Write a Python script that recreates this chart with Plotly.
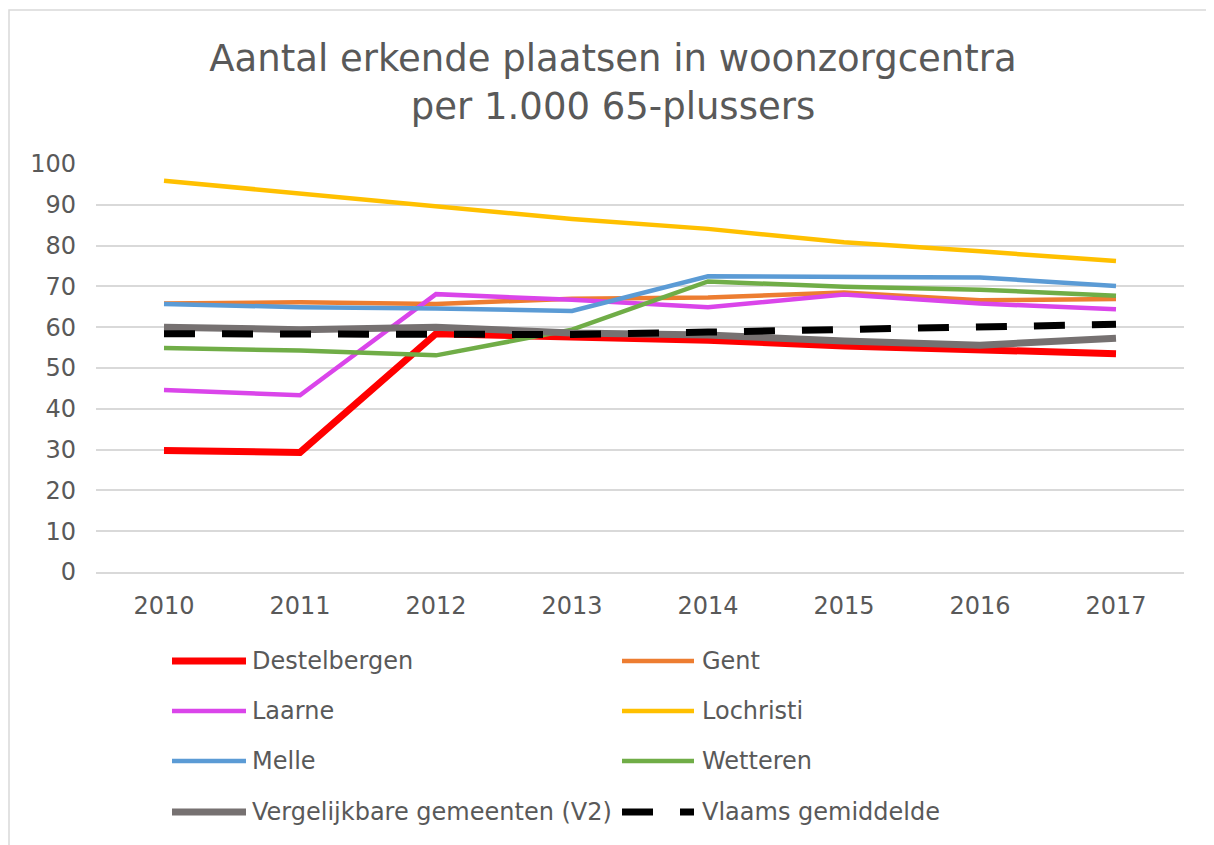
import plotly.graph_objects as go

years = ["2010", "2011", "2012", "2013", "2014", "2015", "2016", "2017"]

destelbergen = [29.8, 29.3, 58.4, 57.6, 56.8, 55.4, 54.3, 53.5]
gent = [65.8, 66.1, 65.7, 67.0, 67.3, 68.5, 66.6, 66.9]
laarne = [44.6, 43.3, 68.1, 66.7, 64.9, 68.0, 65.8, 64.4]
lochristi = [95.9, 92.8, 89.7, 86.5, 84.1, 80.8, 78.6, 76.2]
melle = [65.7, 64.9, 64.6, 64.0, 72.5, 72.4, 72.2, 70.1]
wetteren = [54.9, 54.3, 53.1, 59.4, 71.2, 69.9, 69.2, 67.7]
v2 = [60.0, 59.4, 60.0, 58.6, 58.1, 56.6, 55.6, 57.3]
vlaams = [58.4, 58.4, 58.2, 58.2, 58.8, 59.4, 60.0, 60.7]

series_names = ["Destelbergen", "Gent", "Laarne", "Lochristi", "Melle", "Wetteren",
                "Vergelijkbare gemeenten (V2)", "Vlaams gemiddelde"]
series_values = [destelbergen, gent, laarne, lochristi, melle, wetteren, v2, vlaams]
colors = ["#FF0000", "#ED7D31", "#DA45EA", "#FFC000", "#5B9BD5", "#70AD47", "#767171", "#000000"]
widths = [7, 4.5, 4.5, 4.5, 4.5, 4.5, 7, 7]
dashes = ["solid"] * 7 + ["31px,27px"]

y_ticks = [0, 10, 20, 30, 40, 50, 60, 70, 80, 90, 100]

OFF = 8  # page body margin
W, H = 1214 - OFF, 845 - OFF
# plot area in screen pixels
SL, SR, ST, SB = 96, 1184, 164, 572
L, R, T, B = SL - OFF, SR - OFF, ST - OFF, SB - OFF
FONT = "DejaVu Sans"
TXT = "#595959"

fig = go.Figure()
for name, vals, c, w, d in zip(series_names, series_values, colors, widths, dashes):
    fig.add_trace(go.Scatter(x=years, y=vals, mode="lines", name=name,
                             line=dict(color=c, width=w, dash=d),
                             showlegend=False))

def px_x(px):
    return (px - SL) / (SR - SL)

def px_y(py):
    return (SB - py) / (SB - ST)

shapes = []
annotations = []
# chart border (right and bottom edges fall outside the visible area)
shapes.append(dict(type="rect", xref="paper", yref="paper",
                   x0=px_x(9), x1=px_x(1240), y0=px_y(880), y1=px_y(10),
                   line=dict(color="#D9D9D9", width=1.5), layer="below"))

# manual legend, two columns, row-wise order
col_x = [(172, 246, 250), (622, 694, 700)]
row_y = [661, 711, 761, 812]
for i, name in enumerate(series_names):
    r, c = divmod(i, 2)
    x0, x1, xt = col_x[c]
    y = row_y[r]
    shapes.append(dict(type="line", xref="paper", yref="paper",
                       x0=px_x(x0), x1=px_x(x1), y0=px_y(y), y1=px_y(y),
                       line=dict(color=colors[i], width=widths[i], dash=dashes[i])))
    annotations.append(dict(text=name, xref="paper", yref="paper",
                            x=px_x(xt), y=px_y(y), xanchor="left", yanchor="middle",
                            showarrow=False, font=dict(family=FONT, size=24, color=TXT)))

fig.update_layout(
    width=W, height=H,
    margin=dict(l=L, r=W - R, t=T, b=H - B),
    paper_bgcolor="white", plot_bgcolor="white",
    title=dict(text="Aantal erkende plaatsen in woonzorgcentra<br>per 1.000 65-plussers",
               xref="container", yref="container", x=(613 - OFF) / W, xanchor="center",
               y=1 - 63 / H, yanchor="top",
               font=dict(family=FONT, size=37, color=TXT)),
    shapes=shapes, annotations=annotations,
    showlegend=False,
    font=dict(family=FONT, color=TXT),
)
fig.update_xaxes(type="category", range=[-0.5, 7.5], showgrid=False,
                 showline=True, linecolor="#D9D9D9", linewidth=1.5,
                 ticks="", tickfont=dict(family=FONT, size=24, color=TXT),
                 ticklabelstandoff=11, zeroline=False)
fig.update_yaxes(range=[0, 100], tickvals=y_ticks, showgrid=True, gridcolor="#D9D9D9",
                 gridwidth=1.5, zeroline=False, showline=False, ticks="",
                 tickfont=dict(family=FONT, size=24, color=TXT),
                 ticklabelstandoff=19)

fig.write_html("out.html")
